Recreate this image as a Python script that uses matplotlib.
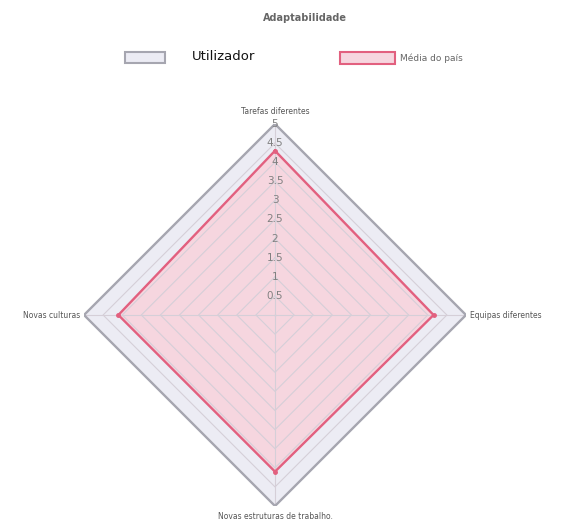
import numpy as np
import matplotlib as mpl
import matplotlib.pyplot as plt
from matplotlib.patches import Rectangle

mpl.use('Agg')

# axes of the radar, clockwise from the top
categories = ["Tarefas diferentes", "Equipas diferentes",
              "Novas estruturas de trabalho.", "Novas culturas"]
utilizador = [5, 5, 5, 5]
media_pais = [4.3, 4.15, 4.1, 4.1]
ring_values = [0.5, 1, 1.5, 2, 2.5, 3, 3.5, 4, 4.5, 5]
tick_labels = ["0.5", "1", "1.5", "2", "2.5", "3", "3.5", "4", "4.5", "5"]

GRAY_LINE = "#a6a6b0"
GRAY_FILL = "#ececf4"
RED_LINE = "#e2607f"
RED_FILL = "#f6d6df"
TXT = "#555555"

W, H = 561, 523
fig = plt.figure(figsize=(W / 100, H / 100), dpi=100)

# polar axes placed so the centre sits at (275, 315) px, radius ~191 px
cx, cy, rad = 275, 315, 191
ax = fig.add_axes([(cx - rad) / W, (H - cy - rad) / H, 2 * rad / W, 2 * rad / H],
                  projection='polar')
ax.set_theta_zero_location('N')
ax.set_theta_direction(-1)
ax.set_ylim(0, 5)
ax.grid(False)
ax.set_xticks([])
ax.set_yticks([])
ax.spines['polar'].set_visible(False)
ax.patch.set_alpha(0)

n = len(categories)
angles = [i * 2 * np.pi / n for i in range(n)]
closed = angles + angles[:1]

# series fills (under the grid lines so the grid shows through)
u = utilizador + utilizador[:1]
m = media_pais + media_pais[:1]
ax.fill(closed, u, color=GRAY_FILL, zorder=1)
ax.fill(closed, m, color=RED_FILL, zorder=2)

# polygon grid rings and spokes
for r in ring_values:
    ax.plot(closed, [r] * (n + 1), color="#d5cfd8", lw=0.8, zorder=3)
for a in angles:
    ax.plot([a, a], [0, 5.08], color="#d5cfd8", lw=0.8, zorder=3)

ax.plot(closed, u, color=GRAY_LINE, lw=1.7, zorder=4)
ax.plot(closed, m, color=RED_LINE, lw=1.7, zorder=5)
ax.plot(angles, media_pais, 'o', color=RED_LINE, ms=2.5, zorder=6)

# value labels along the top axis
for r, lab in zip(ring_values, tick_labels):
    ax.text(0, r, lab, ha='center', va='center', fontsize=7.5, color="#808080",
            zorder=7)

# category labels
ax.text(0, 5.2, categories[0], ha='center', va='bottom', fontsize=5.5, color=TXT)
ax.text(np.pi / 2, 5.1, categories[1], ha='left', va='center', fontsize=5.5, color=TXT)
ax.text(np.pi, 5.15, categories[2], ha='center', va='top', fontsize=5.5, color=TXT)
ax.text(3 * np.pi / 2, 5.1, categories[3], ha='right', va='center', fontsize=5.5, color=TXT)

# title and legend
fig.text(305 / W, 1 - 18 / H, "Adaptabilidade", ha='center', va='center',
         fontsize=7, fontweight='bold', color="#666666")

fig.add_artist(Rectangle((125 / W, 1 - 63 / H), 40 / W, 11 / H, transform=fig.transFigure,
                         facecolor=GRAY_FILL, edgecolor=GRAY_LINE, lw=1.5))
fig.text(192 / W, 1 - 56 / H, "Utilizador", ha='left', va='center',
         fontsize=9.5, color="#111111")
fig.add_artist(Rectangle((340 / W, 1 - 64 / H), 55 / W, 12 / H, transform=fig.transFigure,
                         facecolor=RED_FILL, edgecolor=RED_LINE, lw=1.5))
fig.text(400 / W, 1 - 58 / H, "Média do país", ha='left', va='center',
         fontsize=6.5, color="#666666")

fig.savefig("out.png", dpi=100)
